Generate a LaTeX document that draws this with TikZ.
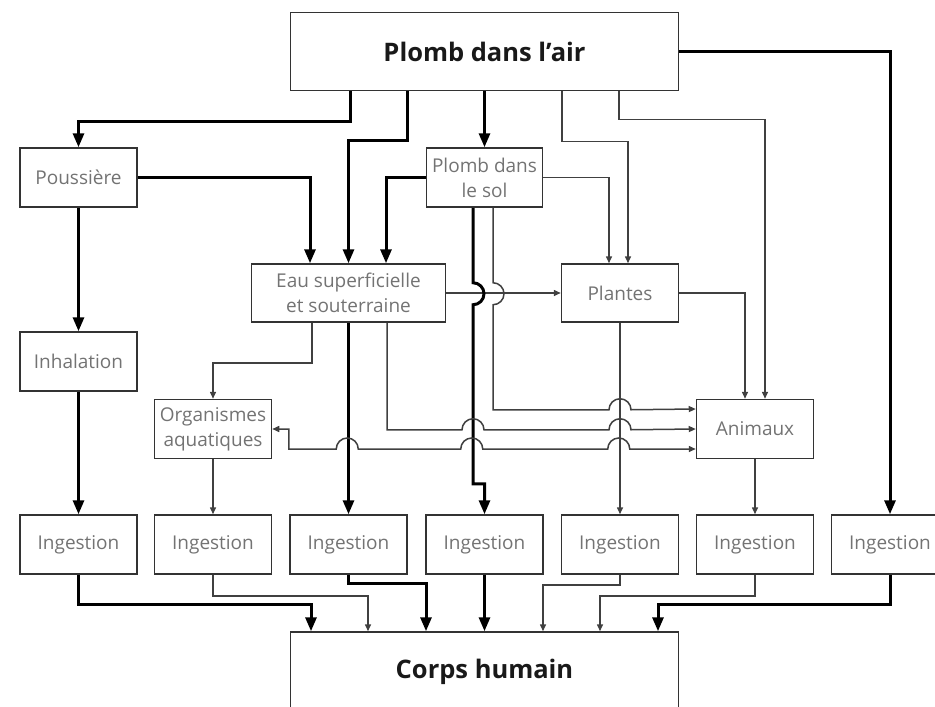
\documentclass[tikz,border=0pt]{standalone}
\usepackage{fontspec}
\setmainfont{Open Sans}
\usetikzlibrary{arrows.meta}
\begin{document}
\begin{tikzpicture}[x=1pt,y=1pt,
 box/.style={draw=black!80, line width=1.5pt, rectangle, inner sep=0pt, minimum width=117pt, minimum height=59pt, text=black!55, font=\fontsize{19}{25}\selectfont, align=center},
 bigbox/.style={draw=black!80, line width=1.5pt, rectangle, inner sep=0pt, minimum width=388pt, minimum height=78pt, font=\fontsize{25.5}{30}\selectfont\bfseries, text=black!90},
 thk/.style={line width=3pt, draw=black, -{Triangle[width=11pt,length=14pt]}},
 thn/.style={line width=1.5pt, draw=black!75, -{Triangle[width=6pt,length=7pt]}},
 hop/.style={radius=11pt}
]
\useasboundingbox (0,0) rectangle (935,-707);
\clip (0,0) rectangle (935,-707);

% nodes
\node[bigbox] (air) at (484.5,-51.5) {Plomb dans l’air};
\node[box] (pous) at (78.5,-177.5) {Poussière};
\node[box,minimum width=116pt] (sol) at (484.5,-177.5) {Plomb dans\\le sol};
\node[box,minimum width=194pt,minimum height=58pt] (eau) at (348.5,-293) {Eau superficielle\\et souterraine};
\node[box,minimum height=58pt] (plantes) at (620,-293) {Plantes};
\node[box] (inhal) at (78.5,-361.5) {Inhalation};
\node[box] (org) at (213,-429) {Organismes\\aquatiques};
\node[box] (anim) at (755,-429) {Animaux};
\node[box] (ing1) at (78.5,-544.5) {Ingestion};
\node[box] (ing2) at (213,-544.5) {Ingestion};
\node[box] (ing3) at (348.5,-544.5) {Ingestion};
\node[box] (ing4) at (484.5,-544.5) {Ingestion};
\node[box] (ing5) at (620,-544.5) {Ingestion};
\node[box] (ing6) at (755,-544.5) {Ingestion};
\node[box] (ing7) at (890,-544.5) {Ingestion};
\node[bigbox,minimum height=80pt] (corps) at (484.5,-672) {Corps humain};

% from Plomb dans l'air
\draw[thk] ([xshift=-134.5pt]air.south) -- ++(0,-30) -| (pous.north);
\draw[thk] ([xshift=-77.5pt]air.south) -- ++(0,-49) -| (eau.north);
\draw[thk] (air.south) -- (sol.north);
\draw[thn] ([xshift=77.5pt]air.south) -- ++(0,-50) -| ([xshift=8pt]plantes.north);
\draw[thn] ([xshift=134.5pt]air.south) -- ++(0,-28) -| ([xshift=10pt]anim.north);
\draw[thk] (air.east) -| (ing7.north);

% Poussiere, Inhalation
\draw[thk] (pous.east) -| ([xshift=-38.5pt]eau.north);
\draw[thk] (pous.south) -- (inhal.north);
\draw[thk] (inhal.south) -- (ing1.north);

% Plomb dans le sol
\draw[thk] (sol.west) -| ([xshift=37.5pt]eau.north);
\draw[thn] (sol.east) -| ([xshift=-11pt]plantes.north);
\draw[thn] (eau.east) -- (plantes.west);
\draw[thk] ([xshift=-11.5pt]sol.south) -- ++(0,-75) arc[start angle=90,end angle=-90,hop] -- ++(0,-179) -- ++(11.5,0) -- (ing4.north);
\draw[thn] ([xshift=8.5pt]sol.south) -- ++(0,-75) arc[start angle=90,end angle=-90,hop] -- ++(0,-105) -- ++(116,0) arc[start angle=180,end angle=0,hop] -- ([yshift=20pt]anim.west);

% Eau
\draw[thn] ([xshift=-36.5pt]eau.south) -- ++(0,-40) -| (org.north);
\draw[thk] (eau.south) -- (ing3.north);
\draw[thn] ([xshift=38.5pt]eau.south) -- ++(0,-107) -- ++(75,0) arc[start angle=180,end angle=0,hop] -- ++(125,0) arc[start angle=180,end angle=0,hop] -- (anim.west);

% Animaux <-> Organismes
\draw[thn,{Triangle[width=6pt,length=7pt]}-{Triangle[width=6pt,length=7pt]}] ([yshift=-20pt]anim.west) -- ++(-66,0) arc[start angle=0,end angle=180,hop] -- ++(-125,0) arc[start angle=0,end angle=180,hop] -- ++(-102.5,0) arc[start angle=0,end angle=180,hop] -- ++(-47.5,0) |- (org.east);

% Plantes, Animaux, Organismes
\draw[thn] (plantes.east) -| ([xshift=-10pt]anim.north);
\draw[thn] (plantes.south) -- (ing5.north);
\draw[thn] (anim.south) -- (ing6.north);
\draw[thn] (org.south) -- (ing2.north);

% to Corps humain
\draw[thk] (ing1.south) -- ++(0,-30) -| ([xshift=-173.5pt]corps.north);
\draw[thn] (ing2.south) -- ++(0,-21) -| ([xshift=-116.5pt]corps.north);
\draw[thk] (ing3.south) -- ++(0,-9) -| ([xshift=-58.5pt]corps.north);
\draw[thk] (ing4.south) -- (corps.north);
\draw[thn] (ing5.south) -- ++(0,-10) -| ([xshift=58.5pt]corps.north);
\draw[thn] (ing6.south) -- ++(0,-21) -| ([xshift=115.5pt]corps.north);
\draw[thk] (ing7.south) -- ++(0,-30) -| ([xshift=173.5pt]corps.north);
\end{tikzpicture}
\end{document}
